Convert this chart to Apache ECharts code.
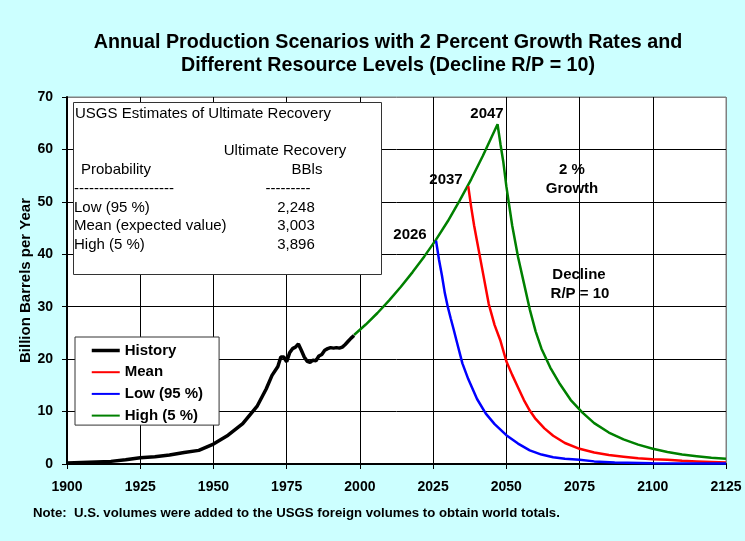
<!DOCTYPE html>
<html>
<head>
<meta charset="utf-8">
<script src="https://cdn.jsdelivr.net/npm/echarts@6/dist/echarts.min.js"></script>
<style>
  html, body { margin: 0; padding: 0; background: #ccffff; }
  #chart { width: 745px; height: 541px; }
</style>
</head>
<body>
<div id="chart"></div>
<script>
// history 1900-1998, billion barrels per year
const historyYears = [1900, 1905, 1910, 1915, 1920, 1925, 1930, 1935, 1940, 1945, 1950, 1955, 1960, 1965, 1968, 1970, 1972, 1973, 1974, 1975, 1976, 1977, 1978, 1979, 1980, 1981, 1982, 1983, 1984, 1985, 1986, 1987, 1988, 1989, 1990, 1991, 1992, 1993, 1994, 1995, 1996, 1997, 1998];
const historyValues = [0.2, 0.3, 0.4, 0.5, 0.8, 1.2, 1.4, 1.7, 2.2, 2.6, 3.8, 5.5, 7.7, 11.1, 14.3, 16.9, 18.6, 20.4, 20.4, 19.5, 21.2, 22.0, 22.3, 22.9, 21.7, 20.4, 19.6, 19.4, 19.8, 19.7, 20.6, 20.9, 21.7, 22.0, 22.2, 22.1, 22.2, 22.1, 22.3, 22.8, 23.4, 24.0, 24.5];

// High (5 %) : growth to 2047 then decline
const highYears = [1998, 2002, 2006, 2010, 2014, 2018, 2022, 2026, 2030, 2034, 2038, 2042, 2047, 2048, 2049, 2050, 2052, 2054, 2056, 2058, 2060, 2062, 2065, 2068, 2072, 2076, 2080, 2085, 2090, 2095, 2100, 2105, 2110, 2115, 2120, 2125];
const highValues = [24.6, 26.6, 28.8, 31.2, 33.8, 36.6, 39.6, 42.8, 46.3, 50.2, 54.3, 58.8, 64.8, 61.0, 57.5, 53.0, 45.5, 39.5, 34.5, 29.5, 25.3, 22.0, 18.4, 15.5, 12.2, 9.8, 7.8, 6.0, 4.7, 3.7, 2.9, 2.3, 1.8, 1.5, 1.2, 1.0];

// Mean : peak 2037
const meanYears = [2037, 2038, 2039, 2040, 2042, 2044, 2046, 2048, 2050, 2052, 2054, 2056, 2058, 2060, 2063, 2066, 2070, 2075, 2080, 2085, 2090, 2095, 2100, 2105, 2110, 2115, 2120, 2125];
const meanValues = [53.0, 49.0, 45.5, 42.5, 36.5, 30.5, 26.5, 23.5, 19.6, 17.0, 14.6, 12.2, 10.2, 8.6, 6.8, 5.4, 4.0, 2.9, 2.2, 1.7, 1.4, 1.1, 0.9, 0.8, 0.6, 0.5, 0.4, 0.3];

// Low (95 %) : peak 2026
const lowYears = [2026, 2027, 2028, 2029, 2030, 2031, 2032, 2033, 2035, 2037, 2040, 2043, 2046, 2050, 2054, 2058, 2062, 2066, 2070, 2075, 2080, 2087, 2100, 2125];
const lowValues = [42.6, 39.0, 36.0, 32.6, 30.0, 27.8, 25.7, 23.5, 19.2, 16.2, 12.4, 9.6, 7.6, 5.5, 3.9, 2.6, 1.8, 1.3, 1.0, 0.8, 0.5, 0.3, 0.15, 0.1];

const tableRows = [
  ['Low (95 %)', '2,248'],
  ['Mean (expected value)', '3,003'],
  ['High (5 %)', '3,896']
];

const FONT = '"Liberation Sans", Arial, sans-serif';
const pairs = (xs, ys) => xs.map((x, i) => [x, ys[i]]);

const chart = echarts.init(document.getElementById('chart'));

// text helper: x/y is the anchor, align left|center, vertically centred
const label = (text, x, y, align, weight, size) => ({
  type: 'text', x: x, y: y, z: 11,
  style: { text: text, font: (weight || 'normal') + ' ' + (size || 15) + 'px ' + FONT,
           fill: '#000', align: align || 'left', verticalAlign: 'middle' }
});

const tableBox = [
  { type: 'rect', z: 10, shape: { x: 73.5, y: 102.5, width: 308, height: 172 },
    style: { fill: '#fff', stroke: '#333', lineWidth: 1 } },
  label('USGS Estimates of Ultimate Recovery', 75, 114),
  label('Ultimate Recovery', 285, 151, 'center'),
  label('Probability', 81, 170),
  label('BBls', 307, 170, 'center'),
  label('--------------------', 74, 189),
  label('---------', 288, 189, 'center')
];
tableRows.forEach((r, i) => {
  tableBox.push(label(r[0], 74, 207.5 + i * 18.5));
  tableBox.push(label(r[1], 296, 207.5 + i * 18.5, 'center'));
});

chart.setOption({
  backgroundColor: '#ccffff',
  animation: false,
  title: {
    text: 'Annual Production Scenarios with 2 Percent Growth Rates and\nDifferent Resource Levels (Decline R/P = 10)',
    left: 383,
    textAlign: 'center',
    top: 26,
    textStyle: { fontFamily: FONT, fontSize: 19.7, fontWeight: 'bold', color: '#000', lineHeight: 23 }
  },
  grid: {
    left: 67, right: 19, top: 97, bottom: 77,
    show: true, backgroundColor: '#fff', borderColor: '#808080', borderWidth: 1
  },
  legend: {
    data: [
      { name: 'History', lineStyle: { width: 3.5 } },
      { name: 'Mean', lineStyle: { width: 2 } },
      { name: 'Low (95 %)', lineStyle: { width: 2 } },
      { name: 'High (5 %)', lineStyle: { width: 2 } }
    ],
    orient: 'vertical',
    left: 75, top: 337,
    padding: [6, 16, 2, 15],
    itemWidth: 28, itemHeight: 16, itemGap: 6.7,
    itemStyle: { opacity: 0 },
    backgroundColor: '#fff', borderColor: '#333', borderWidth: 1, borderRadius: 0,
    textStyle: { fontFamily: FONT, fontSize: 15, fontWeight: 'bold', color: '#000' }
  },
  xAxis: {
    type: 'value', min: 1900, max: 2125, interval: 25,
    axisLine: { onZero: false, lineStyle: { color: '#000', width: 2 } },
    axisTick: { show: true, length: 5, lineStyle: { color: '#000' } },
    axisLabel: { margin: 16, fontFamily: FONT, fontSize: 14, fontWeight: 'bold', color: '#000',
                 formatter: v => String(v) },
    splitLine: { show: true, lineStyle: { color: ['#000', '#000', '#000', '#000', '#000', '#000', '#000', '#000', '#000', '#808080'], width: 1 } }
  },
  yAxis: {
    type: 'value', min: 0, max: 70, interval: 10,
    name: 'Billion Barrels per Year', nameLocation: 'middle', nameGap: 34, nameRotate: 90,
    nameMoveOverlap: false,
    nameTextStyle: { fontFamily: FONT, fontSize: 15, fontWeight: 'bold', color: '#000' },
    axisLine: { show: true, lineStyle: { color: '#000', width: 2 } },
    axisTick: { show: true, length: 5, lineStyle: { color: '#000' } },
    axisLabel: { margin: 14, fontFamily: FONT, fontSize: 14, fontWeight: 'bold', color: '#000' },
    splitLine: { show: true, lineStyle: { color: ['#000', '#000', '#000', '#000', '#000', '#000', '#000', '#808080'], width: 1 } }
  },
  series: [
    { name: 'History', type: 'line', data: pairs(historyYears, historyValues), symbol: 'none', z: 5,
      lineStyle: { color: '#000', width: 3.5 }, itemStyle: { color: '#000' } },
    { name: 'High (5 %)', type: 'line', data: pairs(highYears, highValues), symbol: 'none', z: 2,
      lineStyle: { color: '#008000', width: 2.5 }, itemStyle: { color: '#008000' } },
    { name: 'Mean', type: 'line', data: pairs(meanYears, meanValues), symbol: 'none', z: 3,
      lineStyle: { color: '#ff0000', width: 2.5 }, itemStyle: { color: '#ff0000' } },
    { name: 'Low (95 %)', type: 'line', data: pairs(lowYears, lowValues), symbol: 'none', z: 4,
      lineStyle: { color: '#0000ff', width: 2.5 }, itemStyle: { color: '#0000ff' } }
  ],
  graphic: tableBox.concat([
    label('2047', 487, 114, 'center', 'bold'),
    label('2037', 446, 180, 'center', 'bold'),
    label('2026', 410, 235, 'center', 'bold'),
    label('2 %', 572, 170, 'center', 'bold'),
    label('Growth', 572, 189, 'center', 'bold'),
    label('Decline', 579, 275, 'center', 'bold'),
    label('R/P = 10', 580, 294, 'center', 'bold'),
    label('Note:  U.S. volumes were added to the USGS foreign volumes to obtain world totals.', 33, 513, 'left', 'bold', 13.2)
  ])
});
</script>
</body>
</html>
